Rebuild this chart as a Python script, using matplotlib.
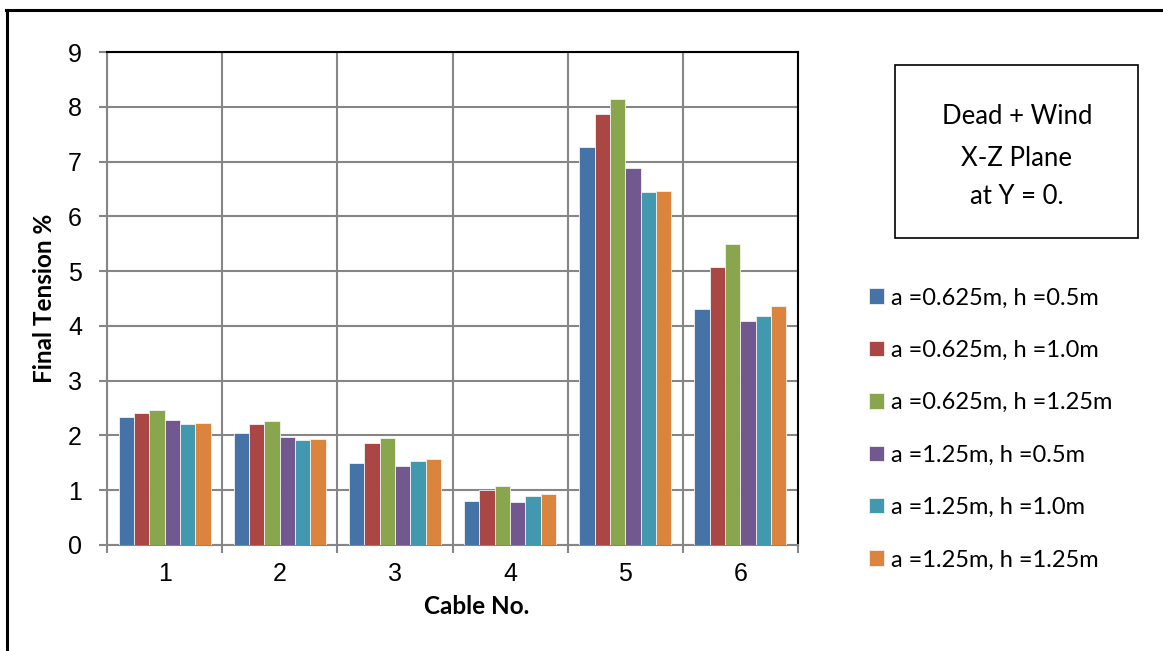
import numpy as np
import matplotlib.pyplot as plt
from matplotlib.lines import Line2D
from matplotlib.patches import Rectangle

cables = ['1', '2', '3', '4', '5', '6']
series_names = ['a =0.625m, h =0.5m', 'a =0.625m, h =1.0m', 'a =0.625m, h =1.25m',
                'a =1.25m, h =0.5m', 'a =1.25m, h =1.0m', 'a =1.25m, h =1.25m']
a0625_h05 = [2.33, 2.04, 1.50, 0.81, 7.27, 4.30]
a0625_h10 = [2.41, 2.21, 1.86, 1.00, 7.87, 5.07]
a0625_h125 = [2.46, 2.26, 1.96, 1.08, 8.15, 5.49]
a125_h05 = [2.28, 1.98, 1.45, 0.79, 6.88, 4.09]
a125_h10 = [2.20, 1.92, 1.54, 0.89, 6.44, 4.18]
a125_h125 = [2.22, 1.93, 1.57, 0.94, 6.47, 4.37]
series = [a0625_h05, a0625_h10, a0625_h125, a125_h05, a125_h10, a125_h125]
colors = ['#4572A7', '#AA4643', '#89A54E', '#71588F', '#4198AF', '#DB843D']

grid_c = '#868686'
fig = plt.figure(figsize=(11.63, 6.51), dpi=100)
ax = fig.add_axes([107/1163, 1-545/651, 691/1163, 493/651])

x = np.arange(len(cables))
w = 0.8/6
for j in range(6):
    ax.bar(x + (j-2.5)*w, series[j], w, color=colors[j], edgecolor='#f2f2f2',
           linewidth=0.6, label=series_names[j], zorder=3)

ax.set_xlim(-0.5, 5.5)
ax.set_ylim(0, 9)
ax.set_yticks(range(10))
ax.set_xticks(x)
ax.set_xticklabels(cables)
ax.set_xticks(np.arange(-0.5, 6, 1), minor=True)
ax.grid(axis='y', color=grid_c, lw=1.5, zorder=0)
ax.grid(axis='x', which='minor', color=grid_c, lw=1.5, zorder=0)
ax.tick_params(axis='x', which='major', length=0, pad=12, labelsize=18)
ax.tick_params(axis='x', which='minor', length=6, width=1.5, color=grid_c)
ax.tick_params(axis='y', length=6, width=1.5, color=grid_c, labelsize=18, pad=12)
for lab in ax.get_xticklabels() + ax.get_yticklabels():
    lab.set_family('Liberation Sans')
ax.spines['left'].set_color(grid_c)
ax.spines['bottom'].set_color(grid_c)
ax.spines['left'].set_linewidth(1.5)
ax.spines['bottom'].set_linewidth(1.5)
ax.spines['top'].set_color('black')
ax.spines['right'].set_color('black')
ax.spines['top'].set_linewidth(1.5)
ax.spines['right'].set_linewidth(1.5)

fig.text(477/1163, 1-606/651, 'Cable No.', ha='center', va='center',
         fontsize=17.5, fontweight='bold', family='Lato')
fig.text(45/1163, 1-298/651, 'Final Tension %', ha='center', va='center',
         rotation=90, fontsize=17.5, fontweight='bold', family='Lato')

leg = fig.legend(loc='upper left', bbox_to_anchor=(860/1163, 1-278/651),
                 frameon=False, prop={'family': 'Lato', 'size': 17},
                 handlelength=0.62, handleheight=0.62, handletextpad=0.3,
                 labelspacing=1.33, borderaxespad=0)

fig.add_artist(Rectangle((895/1163, 1-238/651), 243/1163, 173/651,
                         transform=fig.transFigure, fill=False, ec='black', lw=1.2))
for txt, yy in zip(['Dead + Wind', 'X-Z Plane', 'at Y = 0.'], [117, 158, 197]):
    fig.text(1017/1163, 1-yy/651, txt, ha='center', va='center', fontsize=18.5, family='Lato')

# outer border of the chart frame
fig.add_artist(Line2D([6/1163, 1], [1-9.5/651, 1-9.5/651], transform=fig.transFigure, color='black', lw=2.2))
fig.add_artist(Line2D([6.5/1163, 6.5/1163], [0, 1-9.5/651], transform=fig.transFigure, color='black', lw=2.2))

fig.savefig('out.png', dpi=100)
